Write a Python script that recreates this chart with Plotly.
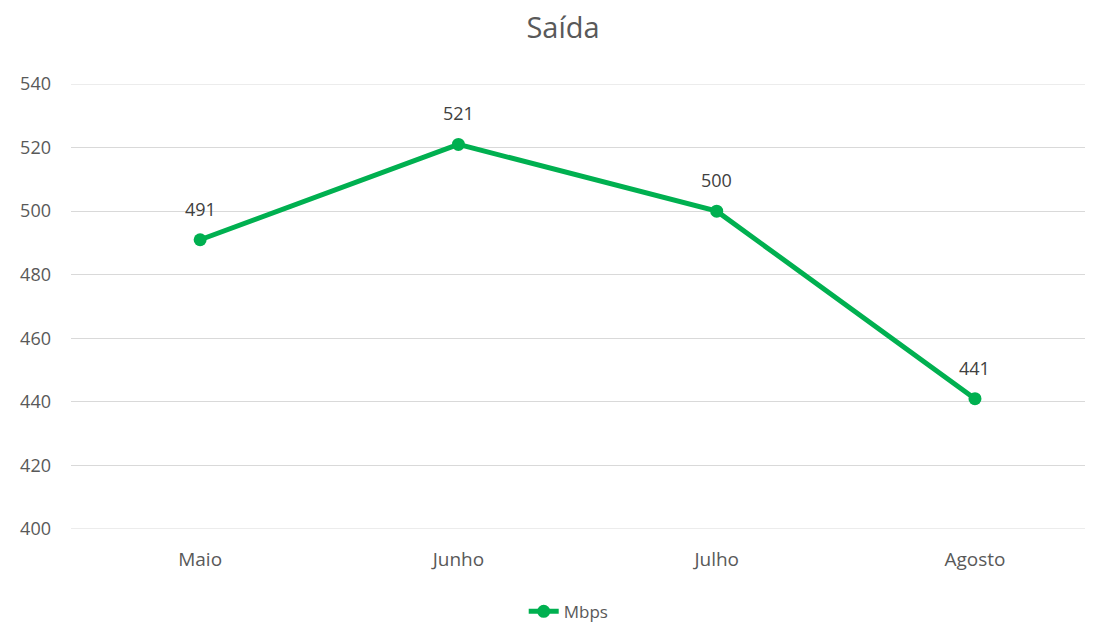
import plotly.graph_objects as go

months = ["Maio", "Junho", "Julho", "Agosto"]
mbps = [491, 521, 500, 441]
y_ticks = [400, 420, 440, 460, 480, 500, 520, 540]

GREEN = "#00B050"
TEXT = "#595959"
GRID = "#d9d9d9"

fig = go.Figure()
fig.add_trace(
    go.Scatter(
        x=months,
        y=mbps,
        mode="lines+markers",
        name="Mbps",
        line=dict(color=GREEN, width=5),
        marker=dict(color=GREEN, size=13),
        cliponaxis=False,
    )
)
# value labels sit above each point
for m, v in zip(months, mbps):
    fig.add_annotation(
        x=m, y=v, text=str(v), showarrow=False, yshift=31,
        font=dict(size=18, color="#404040"),
    )

fig.update_layout(
    width=1085,
    height=614,
    paper_bgcolor="white",
    plot_bgcolor="white",
    font=dict(family="Open Sans, sans-serif", color=TEXT, size=17),
    title=dict(text="Saída", x=0.5115, xanchor="center", y=1 - 20 / 614, yanchor="middle",
               font=dict(size=29, color=TEXT)),
    margin=dict(l=63, r=0, t=76, b=93, autoexpand=False),
    showlegend=True,
    legend=dict(orientation="h", x=0.487, xanchor="center", y=-0.186, yanchor="middle",
                font=dict(size=17, color=TEXT)),
    xaxis=dict(
        type="category",
        range=[-0.5, 3.457],
        showgrid=False,
        zeroline=False,
        showline=False,
        ticks="",
        ticklabelstandoff=17,
        tickfont=dict(size=19, color=TEXT),
    ),
    yaxis=dict(
        range=[400, 540],
        tickvals=y_ticks,
        showgrid=True,
        gridcolor=GRID,
        gridwidth=1,
        zeroline=False,
        ticks="",
        ticklabelstandoff=19,
        tickfont=dict(size=18, color=TEXT),
    ),
)
fig.add_hline(y=400, line_color=GRID, line_width=1, layer="below")
fig.add_hline(y=540, line_color=GRID, line_width=1, layer="below")
fig.write_html("out.html")
